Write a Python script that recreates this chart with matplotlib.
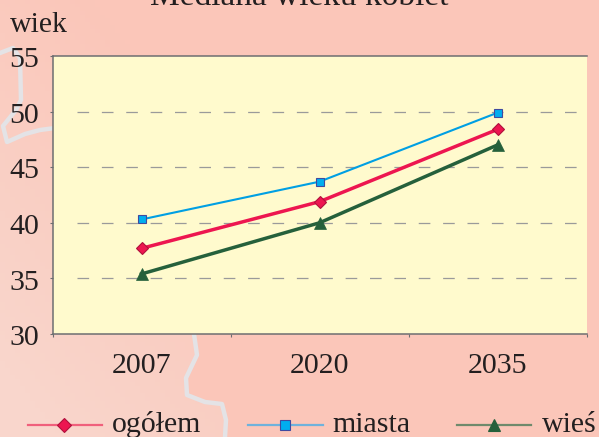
import matplotlib
matplotlib.use("Agg")
import matplotlib.pyplot as plt
import numpy as np
from matplotlib.colors import LinearSegmentedColormap
from matplotlib.transforms import ScaledTranslation

plt.rcParams['font.family'] = ['Liberation Serif', 'DejaVu Serif']

W, H = 599, 437
lata = ['2007', '2020', '2035']
ogolem = [37.7, 41.9, 48.4]
miasta = [40.3, 43.7, 49.9]
wies = [35.4, 40.0, 47.0]
y_ticks = [30, 35, 40, 45, 50, 55]
y_siatka = [35, 40, 45, 50]

# kontur mapy w tle (piksele)
kontur_gora = [(0, 53), (13, 48), (20, 58), (21, 100), (16, 110), (3, 126), (7, 142), (25, 134), (40, 130), (55, 128)]
kontur_dol = [(194, 334), (197, 355), (186, 378), (187, 395), (205, 402), (222, 404), (226, 420), (225, 437)]

tekst = '#231f20'

fig = plt.figure(figsize=(W / 100, H / 100), dpi=100)

# tlo: jasniejszy lewy dolny obszar
bg = fig.add_axes([0, 0, 1, 1], zorder=0)
bg.set_xlim(0, W)
bg.set_ylim(H, 0)
bg.axis('off')
xx, yy = np.meshgrid(np.linspace(0, 1, 120), np.linspace(0, 1, 120))
grad = np.clip(1.15 - xx * 1.6 - (1 - yy) * 0.9, 0, 1)
cmap = LinearSegmentedColormap.from_list('tlo', ['#fbc6b9', '#f9d6cc'])
bg.imshow(grad, extent=[0, W, H, 0], cmap=cmap, aspect='auto', vmin=0, vmax=1)
# prawa strona konturu ma kolor bazowy
pts = np.array(kontur_dol)
bg.fill(list(pts[:, 0]) + [W, W], list(pts[:, 1]) + [H, 334], color='#fbc6b9', lw=0)
bg.plot(*zip(*kontur_gora), color='#e4e3e6', lw=3.2)
bg.plot(*zip(*kontur_dol), color='#e4e3e6', lw=3.2)

# wykres
ax = fig.add_axes([52.5 / W, 1 - 334 / H, 534 / W, 278 / H], zorder=1)
ax.set_facecolor('#fffacd')
x = np.arange(len(lata))
ax.set_xlim(-0.5, 2.5)
ax.set_ylim(30, 55)
ax.set_yticks(y_ticks)
ax.set_xticks([-0.5, 0.5, 1.5, 2.5])
ax.set_xticklabels([])
ax.set_xticks(x, minor=True)
ax.set_xticklabels(lata, minor=True)
ax.tick_params(axis='x', which='major', length=2, width=0.8, color='#6d6e71', direction='out')
ax.tick_params(axis='x', which='minor', length=0, pad=14, labelsize=21.5, labelcolor=tekst)
ax.tick_params(axis='y', length=2, width=0.8, color='#6d6e71', pad=7.5, labelsize=21.5, labelcolor=tekst)
for lab in ax.get_yticklabels():
    lab.set_transform(lab.get_transform() + ScaledTranslation(0, -0.8 / 72, fig.dpi_scale_trans))
# przerywane linie siatki zaczynaja sie kawalek od osi
ax.hlines(y_siatka, 0.0453, 0.984, transform=ax.get_yaxis_transform(), color='#9a9a9a', lw=0.9,
          linestyles=[(0, (9.3, 10.2))], zorder=1)
ax.spines['right'].set_visible(False)
for s in ['left', 'top', 'bottom']:
    ax.spines[s].set_color('#6d6e71')
    ax.spines[s].set_linewidth(1.1)

ax.plot(x, miasta, color='#009fe3', lw=1.5, marker='s', ms=6, mfc='#00aeef', mec='#3f4aa0', mew=0.8, zorder=3)
ax.plot(x, ogolem, color='#ed1650', lw=2.5, marker='D', ms=6.5, mfc='#ed1650', mec='#b0103c', mew=0.8, zorder=4)
ax.plot(x, wies, color='#25603b', lw=2.5, marker='^', ms=8, mfc='#25603b', mec='#25603b', mew=0.5, zorder=3)

# napisy i legenda (piksele)
ov = fig.add_axes([0, 0, 1, 1], zorder=2)
ov.set_xlim(0, W)
ov.set_ylim(H, 0)
ov.axis('off')
ov.text(299.5, 5, 'Mediana wieku kobiet', ha='center', va='baseline', fontsize=24, color=tekst)
ov.text(10, 32, 'wiek', ha='left', va='baseline', fontsize=21.5, color=tekst)

pozycje = [(28, 102, 64, 112), (248, 323, 285, 332), (457, 531, 494, 542)]
nazwy = ['ogółem', 'miasta', 'wieś']
kolory = ['#f0607c', '#6fb2dc', '#6f8a6c']
style = [dict(marker='D', ms=7, mfc='#ed1650', mec='#b0103c'),
         dict(marker='s', ms=7, mfc='#00aeef', mec='#3f4aa0'),
         dict(marker='^', ms=8.5, mfc='#25603b', mec='#25603b')]
for (x0, x1, xm, xt), nazwa, kol, st in zip(pozycje, nazwy, kolory, style):
    ov.plot([x0, x1], [425, 425], color=kol, lw=1.6)
    ov.plot([xm], [425], ls='none', mew=0.8, **st)
    ov.text(xt, 432, nazwa, ha='left', va='baseline', fontsize=21.5, color=tekst)

fig.savefig('out.png', dpi=100)
